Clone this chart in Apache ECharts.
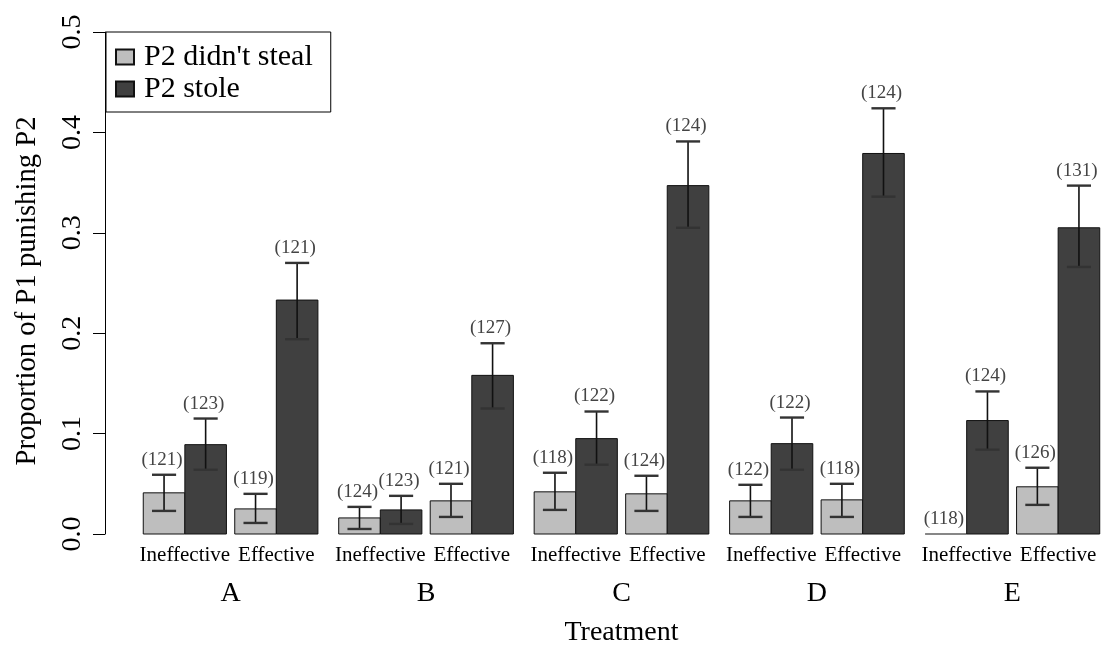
<!DOCTYPE html>
<html>
<head>
<meta charset="utf-8">
<script src="https://cdn.jsdelivr.net/npm/echarts@6/dist/echarts.min.js"></script>
<style>
  html, body { margin: 0; padding: 0; background: #ffffff; }
  #chart { width: 1105px; height: 646px; }
</style>
</head>
<body>
<div id="chart"></div>
<script>
// Treatments and the effectiveness condition within each
const treatments = ['A', 'B', 'C', 'D', 'E'];
const effectiveness = ['Ineffective', 'Effective'];
const yTicks = [0, 0.1, 0.2, 0.3, 0.4, 0.5];

// Groups ordered A-Ineffective, A-Effective, B-Ineffective, ..., E-Effective
// Proportion of P1 punishing P2, lower / upper error bar ends, and group size
const didntStealMean = [0.041, 0.025, 0.016, 0.033, 0.042, 0.040, 0.033, 0.034, 0.000, 0.047];
const didntStealLow  = [0.023, 0.011, 0.005, 0.017, 0.024, 0.023, 0.017, 0.017, 0.000, 0.029];
const didntStealHigh = [0.059, 0.040, 0.027, 0.050, 0.061, 0.058, 0.049, 0.050, 0.000, 0.066];
const didntStealN    = [121, 119, 124, 121, 118, 124, 122, 118, 118, 126];

const stoleMean = [0.089, 0.233, 0.024, 0.158, 0.095, 0.347, 0.090, 0.379, 0.113, 0.305];
const stoleLow  = [0.064, 0.194, 0.010, 0.125, 0.069, 0.305, 0.064, 0.336, 0.084, 0.266];
const stoleHigh = [0.115, 0.270, 0.038, 0.190, 0.122, 0.391, 0.116, 0.424, 0.142, 0.347];
const stoleN    = [123, 121, 123, 127, 122, 124, 122, 124, 124, 131];

const SERIF = 'Liberation Serif';

// Bar layout in bar-width units: two touching bars per group,
// a small gap between conditions and a larger one between treatments.
const WITHIN_GAP = 0.2;
const BETWEEN_GAP = 0.5;
function groupLeft(g) {
  const t = Math.floor(g / 2), k = g % 2;
  return 2 * g + WITHIN_GAP * (t + k) + BETWEEN_GAP * t;
}
const TOTAL = groupLeft(effectiveness.length * treatments.length - 1) + 2;
const PAD = 0.04 * TOTAL;

function barSeries(name, color, mean, low, high, n, slot) {
  return {
    type: 'custom',
    name: name,
    clip: false,
    itemStyle: { color: color, borderColor: '#111111', borderWidth: 1 },
    data: mean.map((v, i) => [i, v, low[i], high[i], n[i]]),
    renderItem: function (params, api) {
      const g = api.value(0);
      const v = api.value(1), lo = api.value(2), hi = api.value(3), cnt = api.value(4);
      const left = groupLeft(g) + slot;
      const p0 = api.coord([left, 0]);
      const p1 = api.coord([left + 1, v]);
      const children = [];
      if (p0[1] - p1[1] > 0.5) {
        children.push({
          type: 'rect',
          shape: { x: p0[0], y: p1[1], width: p1[0] - p0[0], height: p0[1] - p1[1] },
          style: { fill: color, stroke: '#111111', lineWidth: 1 }
        });
      } else {
        children.push({
          type: 'line',
          shape: { x1: p0[0], y1: p0[1], x2: p1[0], y2: p0[1] },
          style: { stroke: '#111111', lineWidth: 1.2 }
        });
      }
      const xc = api.coord([left + 0.5, 0])[0];
      const capL = api.coord([left + 0.5 - 0.29, 0])[0];
      const capR = api.coord([left + 0.5 + 0.29, 0])[0];
      const yLo = api.coord([left, lo])[1];
      const yHi = api.coord([left, hi])[1];
      if (yLo - yHi > 0.5) {
        children.push({
          type: 'line', z2: 5,
          shape: { x1: xc, y1: yLo, x2: xc, y2: yHi },
          style: { stroke: '#111111', lineWidth: 1.6 }
        });
        children.push({
          type: 'line', z2: 5,
          shape: { x1: capL, y1: yHi, x2: capR, y2: yHi },
          style: { stroke: '#333333', lineWidth: 2.4 }
        });
        children.push({
          type: 'line', z2: 5,
          shape: { x1: capL, y1: yLo, x2: capR, y2: yLo },
          style: { stroke: '#333333', lineWidth: 2.4 }
        });
      }
      children.push({
        type: 'text', z2: 6,
        x: xc - 2, y: yHi - 15,
        style: {
          text: '(' + cnt + ')',
          fill: '#444444',
          fontSize: 19,
          fontFamily: SERIF,
          align: 'center', verticalAlign: 'middle',
          textAlign: 'center', textVerticalAlign: 'middle'
        }
      });
      return { type: 'group', children: children };
    }
  };
}

// Condition labels under each pair of bars
const conditionLabels = {
  type: 'custom',
  clip: false,
  silent: true,
  data: treatments.flatMap((t, ti) => effectiveness.map((e, ei) => [ti * 2 + ei, 0])),
  renderItem: function (params, api) {
    const g = api.value(0);
    const p = api.coord([groupLeft(g) + 1, 0]);
    return {
      type: 'text',
      x: p[0], y: p[1] + 21,
      style: {
        text: effectiveness[g % 2],
        fill: '#000000', fontSize: 21, fontFamily: SERIF,
        align: 'center', verticalAlign: 'middle',
        textAlign: 'center', textVerticalAlign: 'middle'
      }
    };
  }
};

// Treatment letters centred under their four bars
const treatmentLabels = {
  type: 'custom',
  clip: false,
  silent: true,
  data: treatments.map((t, ti) => [ti, 0]),
  renderItem: function (params, api) {
    const t = api.value(0);
    const a = groupLeft(2 * t), b = groupLeft(2 * t + 1) + 2;
    const p = api.coord([(a + b) / 2, 0]);
    return {
      type: 'text',
      x: p[0], y: p[1] + 60,
      style: {
        text: treatments[t],
        fill: '#000000', fontSize: 28, fontFamily: SERIF,
        align: 'center', verticalAlign: 'middle',
        textAlign: 'center', textVerticalAlign: 'middle'
      }
    };
  }
};

const chart = echarts.init(document.getElementById('chart'), null, { renderer: 'canvas' });
chart.setOption({
  backgroundColor: '#ffffff',
  animation: false,
  grid: { left: 105, width: 1033, top: 32, bottom: 112, containLabel: false, outerBoundsMode: 'none' },
  legend: {
    orient: 'vertical',
    left: 106, top: 32,
    data: ["P2 didn't steal", 'P2 stole'],
    icon: 'rect',
    itemWidth: 18, itemHeight: 15,
    itemGap: 2,
    padding: [10, 18, 8, 9],
    backgroundColor: '#ffffff',
    borderColor: '#000000', borderWidth: 1,
    borderRadius: 0,
    selectedMode: false,
    textStyle: { color: '#000000', fontSize: 30, fontFamily: SERIF, lineHeight: 29, padding: [0, 0, 0, 5] }
  },
  xAxis: {
    type: 'value',
    min: -PAD, max: TOTAL + PAD,
    name: 'Treatment',
    nameLocation: 'middle',
    nameGap: 85,
    nameTextStyle: { color: '#000000', fontSize: 28, fontFamily: SERIF },
    axisLine: { show: false }, axisTick: { show: false },
    axisLabel: { show: false }, splitLine: { show: false }
  },
  yAxis: {
    type: 'value',
    min: yTicks[0], max: yTicks[yTicks.length - 1], interval: 0.1,
    name: 'Proportion of P1 punishing P2',
    nameLocation: 'middle',
    nameRotate: 90,
    nameGap: 63,
    nameTextStyle: { color: '#000000', fontSize: 28.7, fontFamily: SERIF, padding: [0, 16, 0, 0] },
    axisLine: { show: true, onZero: false, lineStyle: { color: '#000000', width: 1 } },
    axisTick: { show: true, length: 12, lineStyle: { color: '#000000', width: 1 } },
    axisLabel: {
      rotate: 90, margin: 18,
      color: '#000000', fontSize: 28, fontFamily: SERIF,
      formatter: v => v.toFixed(1)
    },
    splitLine: { show: false }
  },
  series: [
    barSeries("P2 didn't steal", '#bebebe', didntStealMean, didntStealLow, didntStealHigh, didntStealN, 0),
    barSeries('P2 stole', '#404040', stoleMean, stoleLow, stoleHigh, stoleN, 1),
    conditionLabels,
    treatmentLabels
  ]
});
</script>
</body>
</html>
